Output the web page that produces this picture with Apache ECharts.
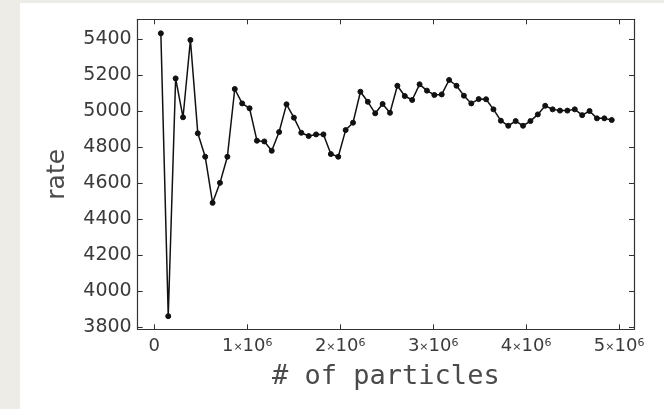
<!DOCTYPE html>
<html>
<head>
<meta charset="utf-8">
<script src="https://cdn.jsdelivr.net/npm/echarts@6/dist/echarts.min.js"></script>
<style>
html,body{margin:0;padding:0;width:664px;height:409px;background:#eeece6;overflow:hidden;}
#c{position:absolute;left:20px;top:3px;width:644px;height:406px;background:#ffffff;}
</style>
</head>
<body>
<div id="c"></div>
<script>
// number of particles (x values)
var particles = [71000,150500,230000,309500,389000,468500,548000,627500,707000,786500,
866000,945500,1025000,1104500,1184000,1263500,1343000,1422500,1502000,1581500,
1661000,1740500,1820000,1899500,1979000,2058500,2138000,2217500,2297000,2376500,
2456000,2535500,2615000,2694500,2774000,2853500,2933000,3012500,3092000,3171500,
3251000,3330500,3410000,3489500,3569000,3648500,3728000,3807500,3887000,3966500,
4046000,4125500,4205000,4284500,4364000,4443500,4523000,4602500,4682000,4761500,
4841000,4920500];
// rate values
var rate = [5433,3863,5183,4967,5396,4878,4748,4492,4603,4748,
5124,5044,5017,4837,4833,4781,4885,5039,4965,4881,
4863,4872,4872,4763,4748,4896,4937,5109,5053,4989,
5041,4992,5142,5085,5063,5150,5115,5091,5094,5174,
5142,5087,5044,5068,5067,5011,4948,4920,4946,4920,
4946,4983,5031,5011,5004,5004,5011,4979,5002,4961,
4961,4952];
var xTicks = [0,1000000,2000000,3000000,4000000,5000000];
var yTicks = [3800,4000,4200,4400,4600,4800,5000,5200,5400];
var xTitle = '# of particles';
var yTitle = 'rate';

var pts = particles.map(function(x,i){return [x, rate[i]];});
var lineCol = '#333';
var txtCol = '#3a3a3a';
function xfmt(v){
  if (v === 0) return '{n|0}';
  return '{n|' + Math.round(v/1e6) + '}{m|×}{n|10}{s|6}';
}
var chart = echarts.init(document.getElementById('c'), null, {renderer:'canvas'});
chart.setOption({
  animation:false,
  backgroundColor:'#ffffff',
  grid:{left:117.7, top:16.3, right:30, bottom:79.7, containLabel:false},
  xAxis:[{
    type:'value', min:-178000, max:5160000, position:'bottom',
    name:xTitle, nameLocation:'middle', nameGap:34,
    nameTextStyle:{fontFamily:'DejaVu Sans Mono', fontSize:27, color:'#4a4a4a'},
    axisLine:{show:true, onZero:false, lineStyle:{color:lineCol, width:1.2}},
    axisTick:{show:true, inside:true, length:5, customValues:xTicks, lineStyle:{color:lineCol}},
    axisLabel:{show:true, margin:8, customValues:xTicks, formatter:xfmt,
      rich:{n:{fontFamily:'DejaVu Sans', fontSize:18, color:txtCol},
            m:{fontFamily:'DejaVu Sans', fontSize:11, color:txtCol},
            s:{fontFamily:'DejaVu Sans', fontSize:11, color:txtCol, verticalAlign:'top', padding:[0,0,8,0]}}},
    splitLine:{show:false}
  },{
    type:'value', min:-178000, max:5160000, position:'top',
    axisLine:{show:true, onZero:false, lineStyle:{color:lineCol, width:1.2}},
    axisTick:{show:true, inside:true, length:5, customValues:xTicks, lineStyle:{color:lineCol}},
    axisLabel:{show:false}, splitLine:{show:false}
  }],
  yAxis:[{
    type:'value', min:3790, max:5511, position:'left',
    name:yTitle, nameLocation:'middle', nameGap:68, nameRotate:90,
    nameTextStyle:{fontFamily:'DejaVu Sans', fontSize:25, color:'#4a4a4a'},
    axisLine:{show:true, onZero:false, lineStyle:{color:lineCol, width:1.2}},
    axisTick:{show:true, inside:true, length:5, customValues:yTicks, lineStyle:{color:lineCol}},
    axisLabel:{show:true, margin:6, customValues:yTicks, formatter:function(v){return String(v);},
      fontFamily:'DejaVu Sans', fontSize:19, color:txtCol},
    splitLine:{show:false}
  },{
    type:'value', min:3790, max:5511, position:'right',
    axisLine:{show:true, onZero:false, lineStyle:{color:lineCol, width:1.2}},
    axisTick:{show:true, inside:true, length:5, customValues:yTicks, lineStyle:{color:lineCol}},
    axisLabel:{show:false}, splitLine:{show:false}
  }],
  series:[{
    type:'line', data:pts, xAxisIndex:0, yAxisIndex:0,
    symbol:'circle', symbolSize:5, showSymbol:true,
    lineStyle:{color:'#111', width:1.5},
    itemStyle:{color:'#111', borderColor:'#111', borderWidth:1}
  }]
});
</script>
</body>
</html>
